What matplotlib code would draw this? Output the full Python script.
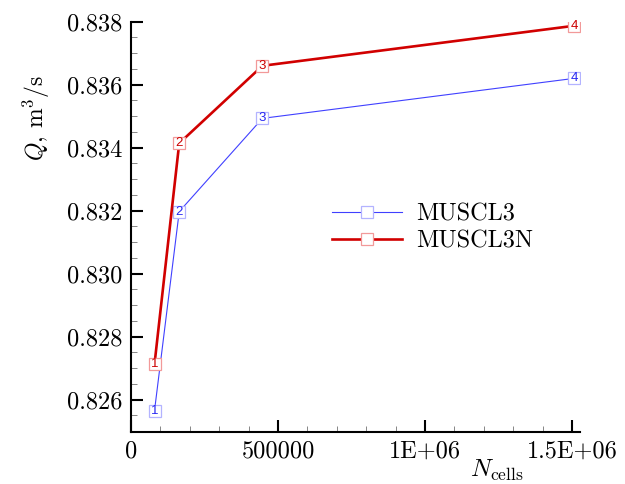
import matplotlib
matplotlib.use("Agg")
import matplotlib.pyplot as plt
from matplotlib.ticker import MultipleLocator, FixedLocator, FixedFormatter

# ---- data ----
n_cells = [80000, 164000, 447000, 1507000]
q_muscl3 = [0.82565, 0.83197, 0.83493, 0.83620]
q_muscl3n = [0.82713, 0.83414, 0.83660, 0.83787]
point_labels = ["1", "2", "3", "4"]
x_ticks = [0, 500000, 1000000, 1500000]
x_tick_labels = ["0", "500000", "1E+06", "1.5E+06"]
y_ticks = [0.826, 0.828, 0.830, 0.832, 0.834, 0.836, 0.838]
y_tick_labels = ["0.826", "0.828", "0.830", "0.832", "0.834", "0.836", "0.838"]

plt.rcParams['font.family'] = ['cmr10', 'DejaVu Serif']
plt.rcParams['mathtext.fontset'] = 'cm'
plt.rcParams['axes.unicode_minus'] = False

fig = plt.figure(figsize=(6.25, 4.84), dpi=100)
ax = fig.add_axes([131/625, 1-432/484, (580-131)/625, (432-21.7)/484])

series = [
    (q_muscl3, "MUSCL3", (0.25, 0.25, 1.0), (0.70, 0.70, 1.0), (0.15, 0.15, 0.95), 0.8),
    (q_muscl3n, "MUSCL3N", (0.82, 0.0, 0.0), (0.95, 0.60, 0.60), (0.80, 0.0, 0.0), 1.9),
]
for q, name, lc, mc, tc, lw in series:
    ax.plot(n_cells, q, color=lc, lw=lw, marker='s', markersize=8,
            markerfacecolor='white', markeredgecolor=mc, markeredgewidth=0.9,
            label=name, zorder=3)
    for xv, yv, t in zip(n_cells, q, point_labels):
        ax.text(xv, yv, t, ha='center', va='center', fontsize=9.5, color=tc,
                family='Liberation Sans', zorder=5)

ax.set_xlim(0, 1527000)
ax.set_ylim(0.82497, 0.838)

ax.xaxis.set_major_locator(FixedLocator(x_ticks))
ax.xaxis.set_major_formatter(FixedFormatter(x_tick_labels))
ax.xaxis.set_minor_locator(MultipleLocator(100000))
ax.yaxis.set_major_locator(FixedLocator(y_ticks))
ax.yaxis.set_major_formatter(FixedFormatter(y_tick_labels))
ax.yaxis.set_minor_locator(MultipleLocator(0.0005))

for s in ['top', 'right']:
    ax.spines[s].set_visible(False)
for s in ['left', 'bottom']:
    ax.spines[s].set_linewidth(1.5)

ax.tick_params(which='major', direction='in', length=8.5, width=1.5,
               labelsize=17.5, pad=6)
ax.tick_params(which='minor', direction='in', length=4.3, width=0.6,
               color='0.45')

leg = ax.legend(loc='center left', bbox_to_anchor=(332/625, 1-227.5/484),
                bbox_transform=fig.transFigure, frameon=False, fontsize=17.5,
                handlelength=2.9, handletextpad=0.55, borderpad=0,
                borderaxespad=0, labelspacing=0.2)

fig.text(36/625, 1-118/484, r'$Q$, m$^3$/s', rotation=90, ha='center',
         va='center', fontsize=17)
fig.text(497/625, 1-470/484, r'$N_{\mathrm{cells}}$', ha='center',
         va='center', fontsize=18)

fig.savefig("out.png", dpi=100)
